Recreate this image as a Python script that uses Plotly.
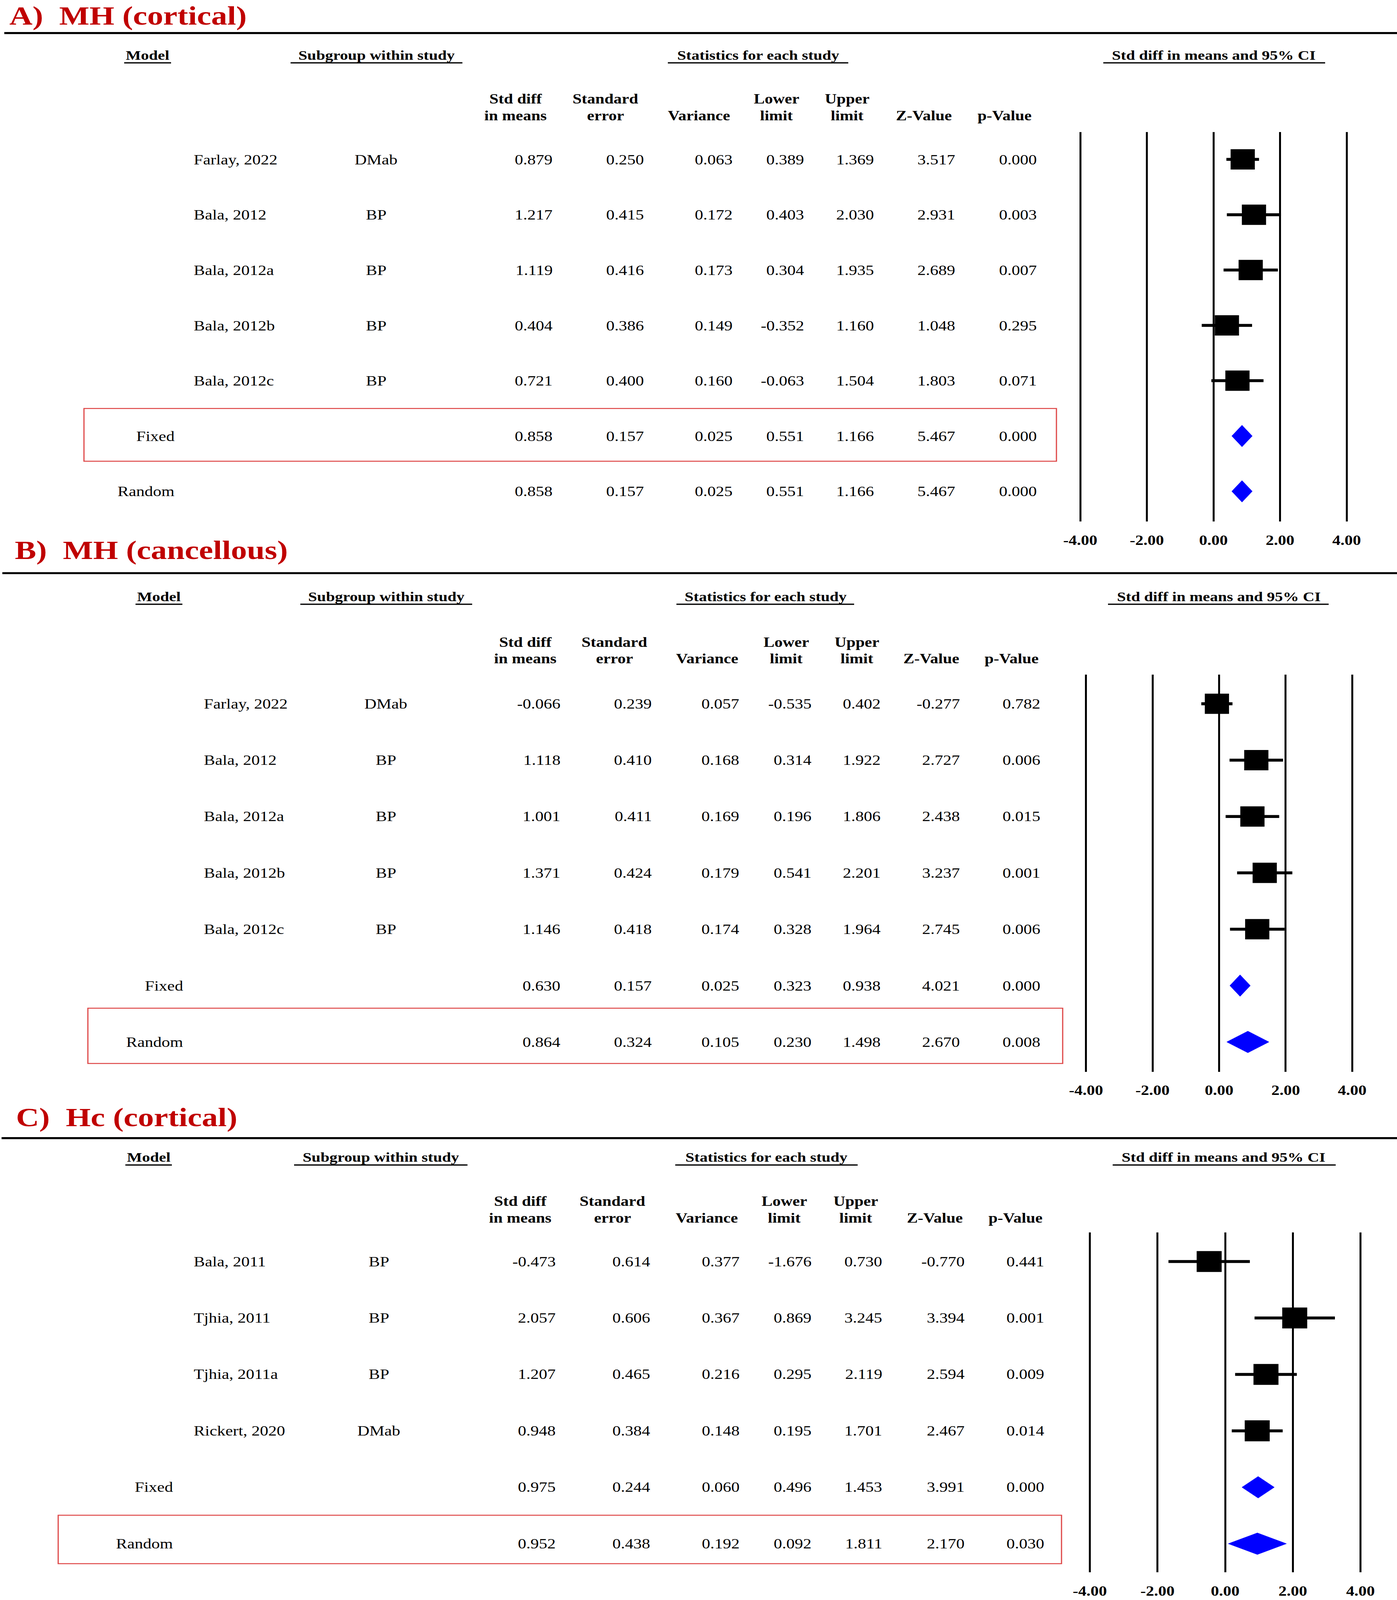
import plotly.graph_objects as go

W, H = 3577, 4888
FONT = "Liberation Serif"

# ---------------- data ----------------
tick_vals = [-4, -2, 0, 2, 4]
tick_text = ["-4.00", "-2.00", "0.00", "2.00", "4.00"]

col_head1 = ["Std diff", "Standard", "", "Lower", "Upper", "", ""]
col_head2 = ["in means", "error", "Variance", "limit", "limit", "Z-Value", "p-Value"]
group_heads = ["Model", "Subgroup within study", "Statistics for each study", "Std diff in means and 95% CI"]

# Panel A
A_title = "A)  MH (cortical)"
A_model = ["", "", "", "", "", "Fixed", "Random"]
A_study = ["Farlay, 2022", "Bala, 2012", "Bala, 2012a", "Bala, 2012b", "Bala, 2012c", "", ""]
A_subgroup = ["DMab", "BP", "BP", "BP", "BP", "", ""]
A_smd = [0.879, 1.217, 1.119, 0.404, 0.721, 0.858, 0.858]
A_se = [0.250, 0.415, 0.416, 0.386, 0.400, 0.157, 0.157]
A_var = [0.063, 0.172, 0.173, 0.149, 0.160, 0.025, 0.025]
A_lower = [0.389, 0.403, 0.304, -0.352, -0.063, 0.551, 0.551]
A_upper = [1.369, 2.030, 1.935, 1.160, 1.504, 1.166, 1.166]
A_z = [3.517, 2.931, 2.689, 1.048, 1.803, 5.467, 5.467]
A_p = [0.000, 0.003, 0.007, 0.295, 0.071, 0.000, 0.000]
A_highlight = "Fixed"

# Panel B
B_title = "B)  MH (cancellous)"
B_model = ["", "", "", "", "", "Fixed", "Random"]
B_study = ["Farlay, 2022", "Bala, 2012", "Bala, 2012a", "Bala, 2012b", "Bala, 2012c", "", ""]
B_subgroup = ["DMab", "BP", "BP", "BP", "BP", "", ""]
B_smd = [-0.066, 1.118, 1.001, 1.371, 1.146, 0.630, 0.864]
B_se = [0.239, 0.410, 0.411, 0.424, 0.418, 0.157, 0.324]
B_var = [0.057, 0.168, 0.169, 0.179, 0.174, 0.025, 0.105]
B_lower = [-0.535, 0.314, 0.196, 0.541, 0.328, 0.323, 0.230]
B_upper = [0.402, 1.922, 1.806, 2.201, 1.964, 0.938, 1.498]
B_z = [-0.277, 2.727, 2.438, 3.237, 2.745, 4.021, 2.670]
B_p = [0.782, 0.006, 0.015, 0.001, 0.006, 0.000, 0.008]
B_highlight = "Random"

# Panel C
C_title = "C)  Hc (cortical)"
C_model = ["", "", "", "", "Fixed", "Random"]
C_study = ["Bala, 2011", "Tjhia, 2011", "Tjhia, 2011a", "Rickert, 2020", "", ""]
C_subgroup = ["BP", "BP", "BP", "DMab", "", ""]
C_smd = [-0.473, 2.057, 1.207, 0.948, 0.975, 0.952]
C_se = [0.614, 0.606, 0.465, 0.384, 0.244, 0.438]
C_var = [0.377, 0.367, 0.216, 0.148, 0.060, 0.192]
C_lower = [-1.676, 0.869, 0.295, 0.195, 0.496, 0.092]
C_upper = [0.730, 3.245, 2.119, 1.701, 1.453, 1.811]
C_z = [-0.770, 3.394, 2.594, 2.467, 3.991, 2.170]
C_p = [0.441, 0.001, 0.009, 0.014, 0.000, 0.030]
C_highlight = "Random"

panels = [
    dict(title=A_title, model=A_model, study=A_study, sub=A_subgroup,
         cols=[A_smd, A_se, A_var, A_lower, A_upper, A_z, A_p], hl=A_highlight),
    dict(title=B_title, model=B_model, study=B_study, sub=B_subgroup,
         cols=[B_smd, B_se, B_var, B_lower, B_upper, B_z, B_p], hl=B_highlight),
    dict(title=C_title, model=C_model, study=C_study, sub=C_subgroup,
         cols=[C_smd, C_se, C_var, C_lower, C_upper, C_z, C_p], hl=C_highlight),
]

# ---------------- layout geometry (pixels) ----------------
geom = [
    dict(title_x=23, title_y=1, title_anchor="top", rule_y=101, rule_x0=11,
         grp_y=168, ul_y=192,
         grp_cx=[378, 964, 1941, 3108],
         ul=[(318, 438), (744, 1184), (1710, 2172), (2825, 3393)],
         head_y=(302, 353), head_cx=[1320, 1550, 1789, 1988, 2169, 2365, 2572],
         val_r=[1416, 1650, 1877, 2060, 2239, 2447, 2656],
         model_r=448, study_l=495, sub_cx=963,
         row0=487, step=169, top=403, bottom=1593,
         zero=3107, unit=85.25, box=(215, 2705, 1248, 1409), sq=62),
    dict(title_x=37, title_y=1680, title_anchor="middle", rule_y=1751, rule_x0=6,
         grp_y=1822, ul_y=1846,
         grp_cx=[407, 989, 1960, 3121],
         ul=[(347, 467), (769, 1209), (1732, 2187), (2837, 3402)],
         head_y=(1962, 2012), head_cx=[1345, 1573, 1810, 2013, 2194, 2384, 2590],
         val_r=[1436, 1670, 1894, 2079, 2256, 2459, 2665],
         model_r=470, study_l=521, sub_cx=988,
         row0=2150, step=172.2, top=2061, bottom=3274,
         zero=3121.5, unit=85.2, box=(225, 2721, 3080, 3249), sq=62),
    dict(title_x=40, title_y=3412, title_anchor="middle", rule_y=3477, rule_x0=4,
         grp_y=3535, ul_y=3559,
         grp_cx=[381, 975, 1962, 3133],
         ul=[(321, 440), (753, 1197), (1729, 2196), (2849, 3420)],
         head_y=(3670, 3721), head_cx=[1332, 1568, 1809, 2008, 2191, 2393, 2600],
         val_r=[1424, 1666, 1895, 2079, 2260, 2471, 2675],
         model_r=444, study_l=495, sub_cx=970,
         row0=3854, step=172.4, top=3765, bottom=4803,
         zero=3137, unit=86.6, box=(149, 2718, 4629, 4777), sq=64),
]

fig = go.Figure()
annotations = []
shapes = []

def ann(x, y, text, size=43, bold=False, anchor="center", color="black", yanchor="middle"):
    annotations.append(dict(
        x=x, y=y, xref="x", yref="y", text=text, showarrow=False,
        xanchor=anchor, yanchor=yanchor, borderpad=0,
        font=dict(family=FONT, size=size, color=color,
                  weight="bold" if bold else "normal")))

def hline(x0, x1, y, width, color="black"):
    shapes.append(dict(type="line", xref="x", yref="y", x0=x0, x1=x1, y0=y, y1=y,
                       line=dict(color=color, width=width)))

layout_axes = {}
XR = 4.5
for k, (p, g) in enumerate(zip(panels, geom)):
    # title and rule
    ann(g["title_x"], g["title_y"], "<b>%s</b>" % p["title"], size=82, anchor="left",
        color="#C00000", yanchor=g["title_anchor"])
    hline(g["rule_x0"], W, g["rule_y"], 6)
    # group headers
    for txt, cx, (u0, u1) in zip(group_heads, g["grp_cx"], g["ul"]):
        ann(cx, g["grp_y"], txt, size=41, bold=True)
        hline(u0, u1, g["ul_y"], 4)
    # column headers
    for h1, h2, cx in zip(col_head1, col_head2, g["head_cx"]):
        if h1:
            ann(cx, g["head_y"][0], h1, size=42, bold=True)
        ann(cx, g["head_y"][1], h2, size=42, bold=True)
    # rows
    n = len(p["study"])
    for i in range(n):
        y = g["row0"] + g["step"] * i
        if p["model"][i]:
            ann(g["model_r"], y, p["model"][i], anchor="right")
        if p["study"][i]:
            ann(g["study_l"], y, p["study"][i], anchor="left")
        if p["sub"][i]:
            ann(g["sub_cx"], y, p["sub"][i])
        for col, xr in zip(p["cols"], g["val_r"]):
            ann(xr, y, "%.3f" % col[i], anchor="right")
    # highlight box
    bx0, bx1, by0, by1 = g["box"]
    shapes.append(dict(type="rect", xref="x", yref="y", x0=bx0, x1=bx1, y0=by0, y1=by1,
                       line=dict(color="rgb(222,70,70)", width=3), fillcolor="rgba(0,0,0,0)"))

    # forest axes
    ax = k + 2
    xd0 = (g["zero"] - XR * g["unit"]) / W
    xd1 = (g["zero"] + XR * g["unit"]) / W
    yd0 = (H - g["bottom"]) / H
    yd1 = (H - g["top"]) / H
    yr_bottom = (g["bottom"] - g["row0"]) / g["step"]
    yr_top = (g["top"] - g["row0"]) / g["step"]
    layout_axes["xaxis%d" % ax] = dict(
        domain=[xd0, xd1], range=[-XR, XR], anchor="y%d" % ax,
        tickvals=tick_vals, ticktext=["<b>%s</b>" % t for t in tick_text],
        tickfont=dict(family=FONT, size=42, color="black"),
        showgrid=True, gridcolor="black", gridwidth=5, zeroline=False, showline=False,
        ticks="outside", ticklen=20, tickcolor="rgba(0,0,0,0)", fixedrange=True)
    layout_axes["yaxis%d" % ax] = dict(
        domain=[yd0, yd1], range=[yr_bottom, yr_top], anchor="x%d" % ax,
        showgrid=False, zeroline=False, showticklabels=False, showline=False, fixedrange=True)

    smd = p["cols"][0]
    lo = p["cols"][3]
    hi = p["cols"][4]
    st_idx = [i for i in range(n) if p["study"][i]]
    fig.add_trace(go.Scatter(
        x=[smd[i] for i in st_idx], y=st_idx, mode="markers",
        xaxis="x%d" % ax, yaxis="y%d" % ax, cliponaxis=False,
        marker=dict(symbol="square", size=g["sq"], color="black", line=dict(width=0)),
        error_x=dict(type="data", symmetric=False,
                     array=[hi[i] - smd[i] for i in st_idx],
                     arrayminus=[smd[i] - lo[i] for i in st_idx],
                     thickness=9, width=0, color="black"),
        hoverinfo="skip"))
    dh = 33.0 / g["step"]
    for i in range(n):
        if p["model"][i]:
            fig.add_trace(go.Scatter(
                x=[lo[i], smd[i], hi[i], smd[i], lo[i]],
                y=[i, i - dh, i, i + dh, i],
                mode="lines", fill="toself", fillcolor="#0000FF",
                line=dict(color="#0000FF", width=1),
                xaxis="x%d" % ax, yaxis="y%d" % ax, hoverinfo="skip"))

fig.update_layout(
    width=W, height=H, autosize=False, margin=dict(l=0, r=0, t=0, b=0),
    paper_bgcolor="white", plot_bgcolor="rgba(0,0,0,0)", showlegend=False,
    xaxis=dict(domain=[0, 1], range=[0, W], visible=False, fixedrange=True),
    yaxis=dict(domain=[0, 1], range=[H, 0], visible=False, fixedrange=True),
    annotations=annotations, shapes=shapes,
    **layout_axes)

# keep the whole 3577x4888 figure inside the visible window, whatever its real size
fit_js = """
document.body.style.margin='0';
document.body.style.overflow='hidden';
document.documentElement.style.overflow='hidden';
var gd = document.getElementById('{plot_id}');
var sx = Math.min(1, window.innerWidth / %d);
var sy = Math.min(1, window.innerHeight / %d);
if (sx < 1 || sy < 1) {
  gd.style.transformOrigin = '0 0';
  gd.style.transform = 'scale(' + sx + ',' + sy + ')';
}
""" % (W, H)

fig.write_html(
    "out.html",
    config={"responsive": False, "displayModeBar": False},
    post_script=fit_js)
